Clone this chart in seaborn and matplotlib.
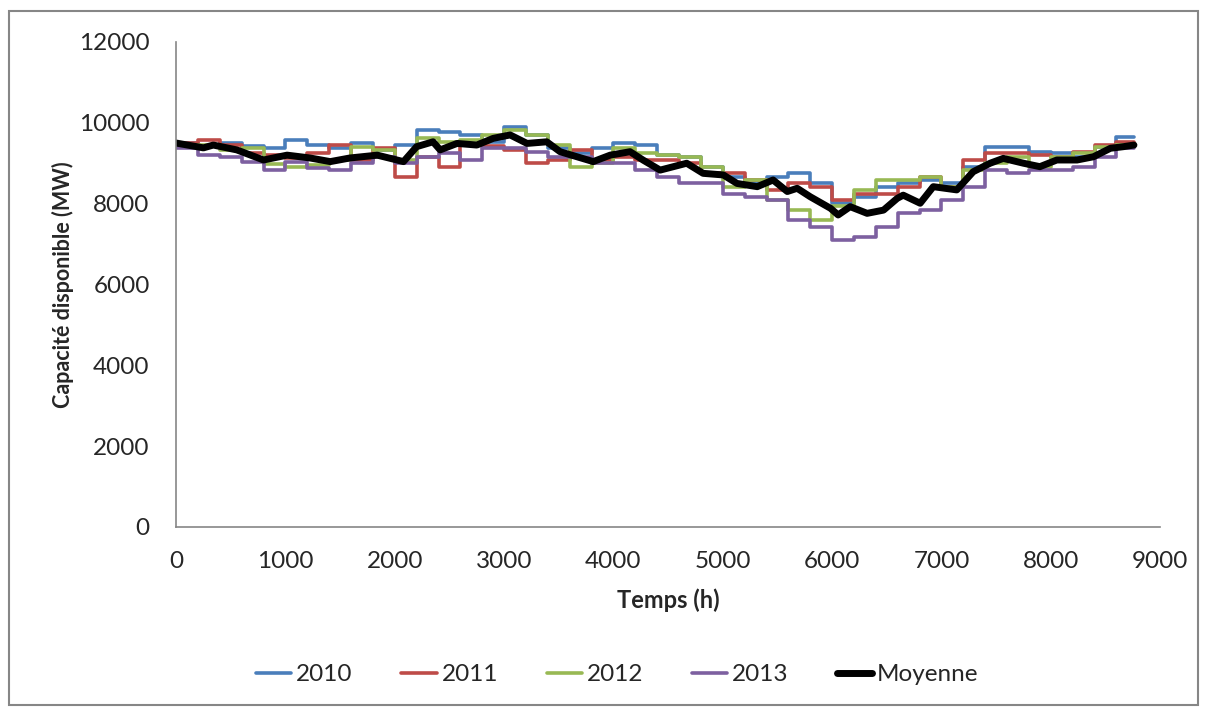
import pandas as pd
import matplotlib.pyplot as plt
import seaborn as sns
from matplotlib.patches import Rectangle
from matplotlib.lines import Line2D

# hourly capacity, one value per 200 h block
hours = [0, 200, 400, 600, 800, 1000, 1200, 1400, 1600, 1800, 2000, 2200, 2400, 2600,
         2800, 3000, 3200, 3400, 3600, 3800, 4000, 4200, 4400, 4600, 4800, 5000, 5200,
         5400, 5600, 5800, 6000, 6200, 6400, 6600, 6800, 7000, 7200, 7400, 7600, 7800,
         8000, 8200, 8400, 8600, 8760]

cap_2010 = [9500, 9420, 9500, 9420, 9380, 9570, 9450, 9370, 9500, 9330, 9450, 9820, 9780, 9700,
            9530, 9900, 9700, 9370, 9250, 9370, 9500, 9450, 9210, 9160, 8910, 8670, 8500,
            8670, 8750, 8500, 8010, 8170, 8420, 8500, 8580, 8500, 8910, 9410, 9410, 9290,
            9250, 9160, 9410, 9650, 9650]
cap_2011 = [9500, 9570, 9450, 9250, 9210, 9130, 9250, 9450, 9080, 9370, 8670, 9160, 8910, 9450,
            9420, 9330, 9000, 9080, 9330, 9080, 9160, 9080, 9080, 9000, 8750, 8750, 8580,
            8340, 8500, 8420, 8090, 8250, 8250, 8420, 8670, 8420, 9080, 9250, 9250, 9210,
            9160, 9290, 9450, 9530, 9530]
cap_2012 = [9450, 9450, 9330, 9370, 8990, 8910, 8950, 9080, 9410, 9330, 9080, 9620, 9530, 9570,
            9700, 9820, 9700, 9450, 8910, 9000, 9370, 9250, 9210, 9160, 8910, 8420, 8580,
            8090, 7840, 7600, 7930, 8340, 8580, 8580, 8670, 8420, 8830, 9000, 9160, 8910,
            9160, 9250, 9410, 9450, 9450]
cap_2013 = [9370, 9200, 9160, 9040, 8830, 9040, 8870, 8830, 9000, 9160, 9000, 9160, 9250, 9080,
            9370, 9370, 9290, 9160, 9160, 9000, 9000, 8830, 8670, 8500, 8500, 8250, 8170,
            8090, 7600, 7430, 7100, 7180, 7430, 7760, 7840, 8090, 8420, 8830, 8750, 8830,
            8830, 8910, 9160, 9370, 9370]

mean_hours = [0, 250, 340, 555, 800, 1015, 1225, 1410, 1590, 1840, 2080, 2200, 2350, 2415,
              2570, 2750, 2900, 3055, 3210, 3390, 3512, 3815, 3970, 4152, 4270, 4427, 4670,
              4820, 5005, 5130, 5315, 5460, 5590, 5680, 5800, 5985, 6055, 6165, 6320, 6470,
              6595, 6650, 6805, 6925, 7140, 7290, 7445, 7565, 7750, 7900, 8055, 8240, 8390,
              8545, 8665, 8760]
cap_mean = [9500, 9380, 9450, 9330, 9080, 9200, 9130, 9040, 9130, 9200, 9040, 9410, 9530, 9330,
            9490, 9450, 9615, 9700, 9490, 9530, 9285, 9040, 9200, 9285, 9080, 8830, 9000,
            8750, 8710, 8500, 8420, 8585, 8300, 8380, 8170, 7885, 7720, 7925, 7760, 7840,
            8130, 8210, 8010, 8420, 8340, 8790, 9000, 9120, 9000, 8915, 9080, 9080, 9160,
            9370, 9410, 9450]

years = ['2010', '2011', '2012', '2013']
colors = {'2010': '#4A7EBB', '2011': '#BE4B48', '2012': '#98B954', '2013': '#7D60A0'}

frames = []
for y, vals in zip(years, [cap_2010, cap_2011, cap_2012, cap_2013]):
    frames.append(pd.DataFrame({'heure': hours, 'capacite': vals, 'annee': y}))
df = pd.concat(frames, ignore_index=True)
df_mean = pd.DataFrame({'heure': mean_hours, 'capacite': cap_mean})

sns.set_style('white')
plt.rcParams['font.family'] = ['Lato', 'DejaVu Sans']

fig = plt.figure(figsize=(12.06, 7.08), dpi=100)
ax = fig.add_axes([0.146, 0.2557, 0.816, 0.685])

sns.lineplot(data=df, x='heure', y='capacite', hue='annee', palette=colors,
             drawstyle='steps-post', linewidth=2.6, legend=False, ax=ax)
sns.lineplot(data=df_mean, x='heure', y='capacite', color='black',
             linewidth=5, legend=False, ax=ax)

ax.set_xlim(0, 9000)
ax.set_ylim(0, 12000)
ax.set_xticks(range(0, 9001, 1000))
ax.set_yticks(range(0, 12001, 2000))
ax.tick_params(axis='both', labelsize=17.5, length=5, width=1, color='#868686',
               direction='out')
ax.tick_params(axis='y', pad=14)
ax.tick_params(axis='x', pad=12)
sns.despine(ax=ax)
for s in ['left', 'bottom']:
    ax.spines[s].set_color('#868686')
    ax.spines[s].set_linewidth(1.2)

ax.set_xlabel('Temps (h)', fontsize=17, fontweight='bold', labelpad=12)
ax.set_ylabel('Capacité disponible (MW)', fontsize=15.5, fontweight='bold', labelpad=4)

handles = [Line2D([], [], color=colors[y], lw=2.6) for y in years]
handles.append(Line2D([], [], color='black', lw=5))
fig.legend(handles, years + ['Moyenne'], loc='center', bbox_to_anchor=(0.512, 0.047),
           ncol=5, frameon=False, fontsize=17.5, handlelength=1.45, handletextpad=0.2,
           columnspacing=2.0)

fig.add_artist(Rectangle((9 / 1206, 1 - 705 / 708), 1189 / 1206, 694 / 708,
                         transform=fig.transFigure, fill=False,
                         edgecolor='#868686', linewidth=1.5))

fig.savefig('out.png', dpi=100)
